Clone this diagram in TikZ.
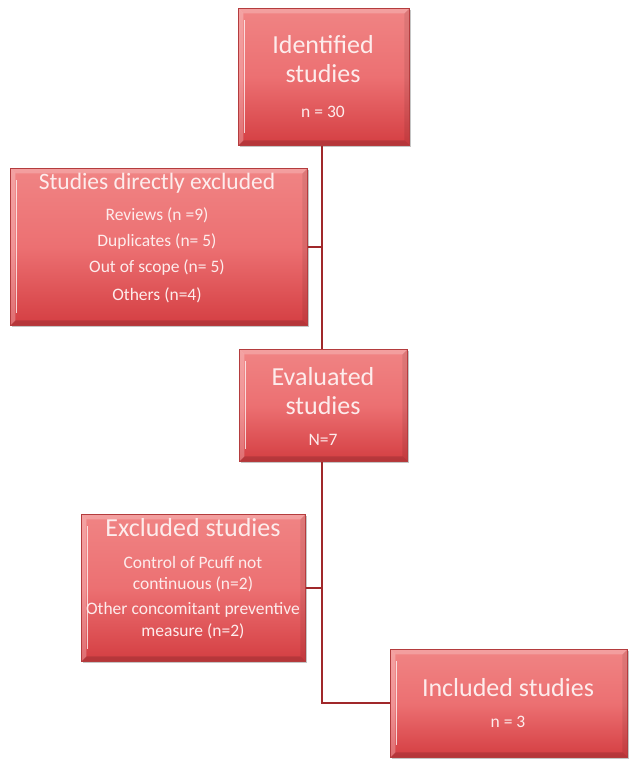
\documentclass[tikz,border=0pt]{standalone}
\usepackage{fontspec}
\setmainfont{Carlito}
\usetikzlibrary{shadows,calc}
\definecolor{boxtop}{RGB}{240,132,132}
\definecolor{boxmid}{RGB}{236,112,114}
\definecolor{boxbot}{RGB}{212,62,66}
\definecolor{boxedge}{RGB}{180,60,62}
\definecolor{linkred}{RGB}{160,40,42}
\definecolor{txt}{RGB}{253,236,236}
\tikzset{
  bevelbox/.style={rectangle, draw=boxedge, line width=0.8pt, anchor=north west,
    top color=boxtop, bottom color=boxbot, middle color=boxmid,
    drop shadow={shadow xshift=2pt, shadow yshift=-2pt, fill=black!45, opacity=0.5},
    path picture={
      \fill[white,opacity=0.22] (path picture bounding box.north west) -- (path picture bounding box.north east)
        -- ([xshift=-5pt,yshift=-5pt]path picture bounding box.north east) -- ([xshift=5pt,yshift=-5pt]path picture bounding box.north west) -- cycle;
      \fill[white,opacity=0.25] (path picture bounding box.north west) -- ([xshift=5pt,yshift=-5pt]path picture bounding box.north west)
        -- ([xshift=5pt,yshift=5pt]path picture bounding box.south west) -- (path picture bounding box.south west) -- cycle;
      \draw[white,opacity=0.75,line width=1.2pt] ([xshift=6pt,yshift=-12pt]path picture bounding box.north west) -- ([xshift=6pt,yshift=12pt]path picture bounding box.south west);
      \fill[black,opacity=0.08] (path picture bounding box.north east) -- ([xshift=-5pt,yshift=-5pt]path picture bounding box.north east)
        -- ([xshift=-5pt,yshift=5pt]path picture bounding box.south east) -- (path picture bounding box.south east) -- cycle;
      \fill[black,opacity=0.14] (path picture bounding box.south west) -- ([xshift=5pt,yshift=5pt]path picture bounding box.south west)
        -- ([xshift=-5pt,yshift=5pt]path picture bounding box.south east) -- (path picture bounding box.south east) -- cycle;
    }},
  bigtxt/.style={text=txt, font=\fontsize{26}{30}\selectfont, inner sep=0pt},
  midtxt/.style={text=txt, font=\fontsize{23.5}{28}\selectfont, inner sep=0pt},
  smalltxt/.style={text=txt, font=\fontsize{17.5}{21}\selectfont, inner sep=0pt},
  link/.style={draw=linkred, line width=2pt}
}
\begin{document}
\begin{tikzpicture}[x=1pt,y=-1pt]
\fill[white] (0,0) rectangle (637,767);
\useasboundingbox (0,0) rectangle (637,767);

% boxes
\node[bevelbox, minimum width=171pt, minimum height=137pt] (b1) at (238,8) {};
\node[bevelbox, minimum width=297pt, minimum height=157pt] (b2) at (10,168) {};
\node[bevelbox, minimum width=168pt, minimum height=112pt] (b3) at (239,349) {};
\node[bevelbox, minimum width=224pt, minimum height=147pt] (b4) at (81,514) {};
\node[bevelbox, minimum width=237pt, minimum height=108pt] (b5) at (390,649) {};

% connectors
\coordinate (sp) at (322,145);
\draw[link] (b1.south -| sp) -- (b3.north -| sp);
\draw[link] (b2.east) -- (b2.east -| sp);
\draw[link] (b3.south -| sp) |- (b5.west);
\draw[link] (b4.east) -- (b4.east -| sp);

% texts box 1
\node[bigtxt] (t1a) at (323,45) {Identified};
\node[bigtxt] (t1b) at (323,74) {studies};
\node[smalltxt] (t1c) at (323,112) {n = 30};
% box 2
\node[midtxt] (t2a) at (157,183) {Studies directly excluded};
\node[smalltxt] (t2b) at (157,215) {Reviews (n =9)};
\node[smalltxt] (t2c) at (157,242) {Duplicates (n= 5)};
\node[smalltxt] (t2d) at (157,268) {Out of scope (n= 5)};
\node[smalltxt] (t2e) at (157,295) {Others (n=4)};
% box 3
\node[bigtxt] (t3a) at (323,377) {Evaluated};
\node[bigtxt] (t3b) at (323,406) {studies};
\node[smalltxt] (t3c) at (323,440) {N=7};
% box 4
\node[bigtxt] (t4a) at (193,528) {Excluded studies};
\node[smalltxt] (t4b) at (193,562) {Control of Pcuff not};
\node[smalltxt] (t4c) at (193,584) {continuous (n=2)};
\node[smalltxt] (t4d) at (193,610) {Other concomitant preventive};
\node[smalltxt] (t4e) at (193,631) {measure (n=2)};
% box 5
\node[bigtxt] (t5a) at (508,688) {Included studies};
\node[smalltxt] (t5b) at (508,722) {n = 3};
\end{tikzpicture}
\end{document}
